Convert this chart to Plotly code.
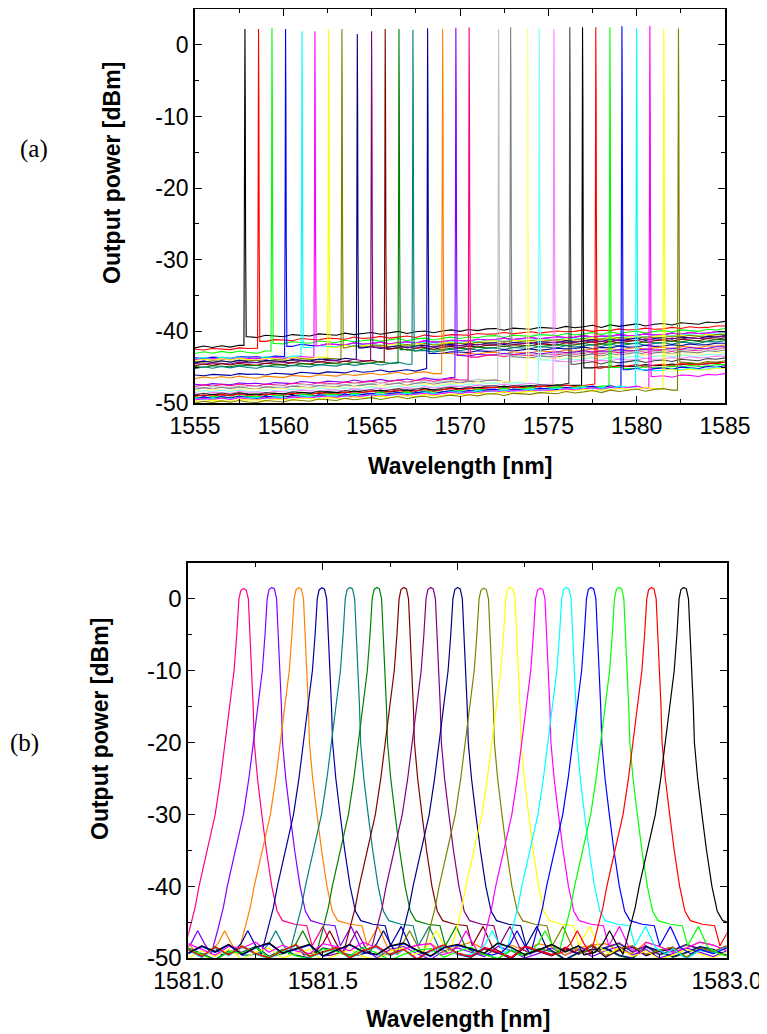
import plotly.graph_objects as go

# ---------------- Panel (a): 31 tuned channels, 1555-1585 nm ----------------
A_PEAK_WL = [1557.83, 1558.60, 1559.36, 1560.13, 1561.06, 1561.79, 1562.57, 1563.32,
             1564.19, 1565.00, 1565.77, 1566.55, 1567.34, 1568.17, 1569.02, 1569.77,
             1570.52, 1572.19, 1572.87, 1573.83, 1574.49, 1575.32, 1576.22, 1576.94,
             1577.69, 1578.49, 1579.17, 1580.00, 1580.75, 1581.54, 1582.37]
A_PEAK_DBM = [2.2, 2.2, 2.4, 2.2, 1.9, 1.9, 2.2, 2.2, 1.5, 1.9, 2.2, 2.2, 2.1, 2.3, 2.2, 2.4,
              2.45, 2.2, 2.45, 2.35, 2.35, 2.2, 2.45, 2.45, 2.45, 2.45, 2.6, 2.35, 2.65, 2.2, 2.3]
# noise floor offsets (dBm) before and after the lasing line
A_PRE_FLOOR = [-42.3, -42.6, -43.1, -43.8, -43.9, -44.0, -44.1, -44.3, -44.4, -44.6, -44.8,
               -45.0, -45.2, -46.2, -46.6, -47.5, -47.7, -47.9, -48.1, -48.3, -48.5, -48.7,
               -48.9, -49.0, -49.1, -49.3, -49.4, -49.5, -49.6, -49.8, -50.0]
A_POST_FLOOR = [-40.9, -41.5, -41.9, -42.3, -42.5, -42.3, -42.6, -42.7, -42.9, -43.0, -43.2,
                -43.4, -43.6, -43.9, -44.2, -44.4, -44.6, -44.6, -44.9, -45.2, -45.4, -45.7,
                -46.0, -46.6, -46.6, -46.9, -47.1, -47.3, -48.2, -47.4, -46.4]
A_COLORS = ["#000000", "#FF0000", "#00FF00", "#0000FF", "#00FFFF", "#FF00FF", "#FFFF00",
            "#808000", "#000080", "#800080", "#800000", "#008000", "#008080", "#0000A0",
            "#FF8000", "#8000FF", "#FF0080", "#C0C0C0", "#808080", "#FFFF80", "#80FFFF",
            "#FF80FF", "#404040", "#000000", "#FF0000", "#00FF00", "#0000FF", "#00FFFF",
            "#FF00FF", "#FFFF00", "#808000"]
# floor grid (0.5 nm) and the floor rise/ripple (two patterns)
A_GRID = [1555.0 + 0.5 * i for i in range(61)]
A_SHAPE_1 = [0.00, 0.25, 0.05, 0.30, 0.10, 0.35, 0.15, 0.05, 0.35, 0.20,
             0.15, 0.45, 0.30, 0.25, 0.55, 0.40, 0.35, 0.65, 0.45, 0.60,
             0.75, 0.50, 0.70, 0.90, 0.60, 0.85, 0.95, 0.70, 0.95, 1.10,
             0.90, 1.15, 1.00, 1.25, 1.30, 1.05, 1.35, 1.25, 1.20, 1.45,
             1.40, 1.30, 1.60, 1.40, 1.55, 1.75, 1.45, 1.80, 1.60, 1.75,
             1.95, 1.65, 1.90, 2.00, 1.80, 2.10, 2.05, 1.90, 2.20, 2.10,
             2.30]
A_SHAPE_2 = [0.10, 0.00, 0.20, 0.15, 0.05, 0.30, 0.20, 0.25, 0.10, 0.35,
             0.30, 0.20, 0.50, 0.35, 0.30, 0.55, 0.45, 0.40, 0.70, 0.50,
             0.60, 0.80, 0.55, 0.75, 0.85, 0.65, 1.00, 0.80, 0.85, 1.05,
             1.05, 0.95, 1.20, 1.10, 1.15, 1.35, 1.15, 1.30, 1.45, 1.25,
             1.35, 1.55, 1.45, 1.50, 1.70, 1.50, 1.65, 1.60, 1.85, 1.70,
             1.75, 1.95, 1.80, 1.85, 2.05, 1.90, 2.15, 2.00, 2.05, 2.25,
             2.25]
# narrow lasing line profile (offset nm, level relative to peak dB)
A_LINE_OFF = [-0.03, -0.012, -0.004, 0.006, 0.016, 0.035]
A_LINE_REL = [-27.0, -8.0, 0.0, -0.2, -10.0, -30.0]

# ---------------- Panel (b): 17 channels at 0.1 nm spacing ----------------
B_PEAK_WL = [1581.205, 1581.31, 1581.41, 1581.496, 1581.60, 1581.70, 1581.80, 1581.90,
             1582.00, 1582.097, 1582.196, 1582.307, 1582.404, 1582.496, 1582.60,
             1582.72, 1582.84]
B_PEAK_DBM = [1.45, 1.6, 1.55, 1.55, 1.6, 1.6, 1.6, 1.6, 1.6, 1.5, 1.6, 1.5, 1.6, 1.6,
              1.6, 1.6, 1.6]
B_FLOOR = [-49.3, -49.6, -49.0, -49.5, -49.2, -49.7, -49.4, -49.1, -49.6, -49.3, -49.8,
           -49.0, -49.5, -49.2, -49.7, -49.4, -49.1]
B_COLORS = ["#FF0080", "#8000FF", "#FF8000", "#0000A0", "#008080", "#008000", "#800000",
            "#800080", "#000080", "#808000", "#FFFF00", "#FF00FF", "#00FFFF", "#0000FF",
            "#00FF00", "#FF0000", "#000000"]
B_GRID = [1581.0 + 0.05 * i for i in range(41)]
B_RIPPLE = [
    [0.6, -0.4, 0.9, -0.2, 1.0, 0.0, -0.6, 0.4, 1.2, -0.4, 0.2, 0.8, -0.6, 0.4, 1.0, -0.2,
     0.6, -0.8, 0.4, 1.2, 0.0, -0.4, 0.8, 0.2, -0.6, 1.0, 0.4, -0.2, 0.8, 0.0, 1.2, -0.4,
     0.6, 1.0, -0.2, 0.4, 0.8, -0.6, 0.6, 0.2, 1.0],
    [-0.2, 0.8, 0.0, 1.0, -0.4, 0.6, 1.2, -0.2, 0.4, 1.0, -0.6, 0.2, 1.0, 0.0, -0.4, 0.8,
     1.2, 0.2, -0.6, 0.6, 1.0, 0.4, -0.2, 1.2, 0.6, -0.4, 0.2, 1.0, 0.0, 0.8, -0.2, 0.6,
     1.2, 0.0, 0.8, -0.4, 0.2, 1.0, 0.4, -0.2, 0.6],
    [1.0, 0.2, -0.6, 0.6, 0.4, 1.2, -0.2, 0.8, 0.0, -0.4, 1.0, 0.6, 0.0, 1.2, 0.4, -0.6,
     0.2, 0.8, 1.0, -0.2, 0.6, 1.2, 0.2, -0.4, 0.8, 0.0, 1.0, 0.6, -0.6, 0.4, 0.8, 1.0,
     0.0, -0.4, 1.2, 0.6, -0.2, 0.4, 1.2, 0.8, 0.0],
]
# filter-shaped line profile (offset nm, dBm)
B_LINE_OFF = [-0.37, -0.33, -0.30, -0.275, -0.25, -0.225, -0.20, -0.18, -0.165, -0.135,
              -0.105, -0.085, -0.068, -0.05, -0.035, -0.025, -0.017, -0.01, 0.0, 0.01,
              0.018, 0.024, 0.031, 0.036, 0.04, 0.052, 0.068, 0.085, 0.105, 0.125, 0.145,
              0.19, 0.235, 0.255, 0.295, 0.33, 0.37]
B_LINE_DB = [-49.6, -49.2, -48.0, -46.2, -48.0, -49.5, -46.0, -43.0, -40.0, -35.0, -30.0,
             -25.0, -20.0, -15.0, -10.0, -5.0, 0.0, None, None, None, 0.0, -5.0, -10.0,
             -15.0, -20.0, -25.0, -30.0, -35.0, -40.0, -43.5, -44.8, -45.3, -45.5, -48.3,
             -45.6, -48.5, -49.4]

# tick labels (hyphen minus as in the original)
A_XTICKS = [1555, 1560, 1565, 1570, 1575, 1580, 1585]
B_XTICKS = [1581.0, 1581.5, 1582.0, 1582.5, 1583.0]
Y_TICKS = [-50, -40, -30, -20, -10, 0]
Y_TICKTEXT = ["-50", "-40", "-30", "-20", "-10", "0"]

fig = go.Figure()

# panel (a) traces
for k, c in enumerate(A_PEAK_WL):
    shape = A_SHAPE_1 if k % 2 == 0 else A_SHAPE_2
    xs, ys = [], []
    last_pre = None
    first_post = None
    for g, s in zip(A_GRID, shape):
        if g < c - 0.06:
            xs.append(g); ys.append(A_PRE_FLOOR[k] + s); last_pre = s
    xs.append(c - 0.06); ys.append(A_PRE_FLOOR[k] + (last_pre if last_pre is not None else shape[0]))
    for off, rel in zip(A_LINE_OFF, A_LINE_REL):
        xs.append(c + off); ys.append(A_PEAK_DBM[k] + rel)
    post_x, post_y = [], []
    for g, s in zip(A_GRID, shape):
        if g > c + 0.07:
            if first_post is None:
                first_post = s
            post_x.append(g); post_y.append(A_POST_FLOOR[k] + s)
    xs.append(c + 0.07); ys.append(A_POST_FLOOR[k] + (first_post if first_post is not None else shape[-1]))
    xs += post_x; ys += post_y
    fig.add_trace(go.Scatter(x=xs, y=ys, mode="lines", xaxis="x", yaxis="y",
                             line=dict(color=A_COLORS[k], width=1.1), hoverinfo="skip"))

# panel (b) traces
for k, c in enumerate(B_PEAK_WL):
    rip = B_RIPPLE[k % 3]
    pts = []
    for g, r in zip(B_GRID, rip):
        if abs(g - c) > 0.375:
            pts.append((g, B_FLOOR[k] + r))
    p = B_PEAK_DBM[k]
    for off, db in zip(B_LINE_OFF, B_LINE_DB):
        if db is None:
            db = p - 0.3 if off < 0 else (p if off == 0 else p - 0.2)
        pts.append((c + off, db))
    pts.sort(key=lambda t: t[0])
    fig.add_trace(go.Scatter(x=[t[0] for t in pts], y=[t[1] for t in pts], mode="lines",
                             xaxis="x2", yaxis="y2",
                             line=dict(color=B_COLORS[k], width=1.2), hoverinfo="skip"))

W, H = 767, 1034
OFF = 8  # the page body adds an 8 px margin; place everything relative to it
FAMILY = "Liberation Sans, Arial, sans-serif"


def px_x(v):
    return (v - OFF) / W


def px_y(v):
    return 1 - (v - OFF) / H


def ax(domain, rng, tickvals, ticktext, minor_dtick, tick0, anchor, size=23, standoff=0):
    return dict(domain=domain, range=rng, anchor=anchor, automargin=False,
                tickmode="array", tickvals=tickvals, ticktext=ticktext,
                ticklabelstandoff=standoff,
                showline=True, linecolor="black", linewidth=1.6, mirror="allticks",
                ticks="inside", ticklen=7, tickwidth=1.3, tickcolor="black",
                showgrid=False, zeroline=False,
                tickfont=dict(family=FAMILY, size=size, color="black"),
                minor=dict(ticks="inside", ticklen=4, tickwidth=1.1, tickcolor="black",
                           dtick=minor_dtick, tick0=tick0, showgrid=False))


fig.update_layout(
    template="none",
    width=W, height=H, autosize=False, showlegend=False,
    paper_bgcolor="white", plot_bgcolor="white",
    margin=dict(l=0, r=0, t=0, b=0, pad=0, autoexpand=False),
    xaxis=ax([px_x(195), px_x(725)], [1555, 1585], A_XTICKS, [str(v) for v in A_XTICKS],
             2.5, 1555, "y", 23, 2),
    yaxis=ax([px_y(403), px_y(9)], [-50, 5], Y_TICKS, Y_TICKTEXT, 5, -50, "x", 23),
    xaxis2=ax([px_x(188.3), px_x(726.7)], [1581.0, 1583.0], B_XTICKS,
              ["%.1f" % v for v in B_XTICKS], 0.25, 1581.0, "y2", 23, 2),
    yaxis2=ax([px_y(958), px_y(563)], [-50, 5], Y_TICKS, Y_TICKTEXT, 5, -50, "x2", 24),
)

TITLEFONT = dict(family=FAMILY, size=23, color="black")
LABELFONT = dict(family="Liberation Serif, Times New Roman, serif", size=25, color="black")
ann = [
    dict(text="<b>Wavelength [nm]</b>", x=px_x(460), y=px_y(466), font=TITLEFONT),
    dict(text="<b>Wavelength [nm]</b>", x=px_x(458), y=px_y(1019), font=TITLEFONT),
    dict(text="<b>Output power [dBm]</b>", x=px_x(112), y=px_y(173), font=TITLEFONT, textangle=-90),
    dict(text="<b>Output power [dBm]</b>", x=px_x(100), y=px_y(729), font=TITLEFONT, textangle=-90),
    dict(text="(a)", x=px_x(34), y=px_y(149), font=LABELFONT),
    dict(text="(b)", x=px_x(24), y=px_y(743), font=LABELFONT),
]
for a in ann:
    a.update(xref="paper", yref="paper", showarrow=False, xanchor="center", yanchor="middle")
fig.update_layout(annotations=ann)

fig.write_html("out.html")
